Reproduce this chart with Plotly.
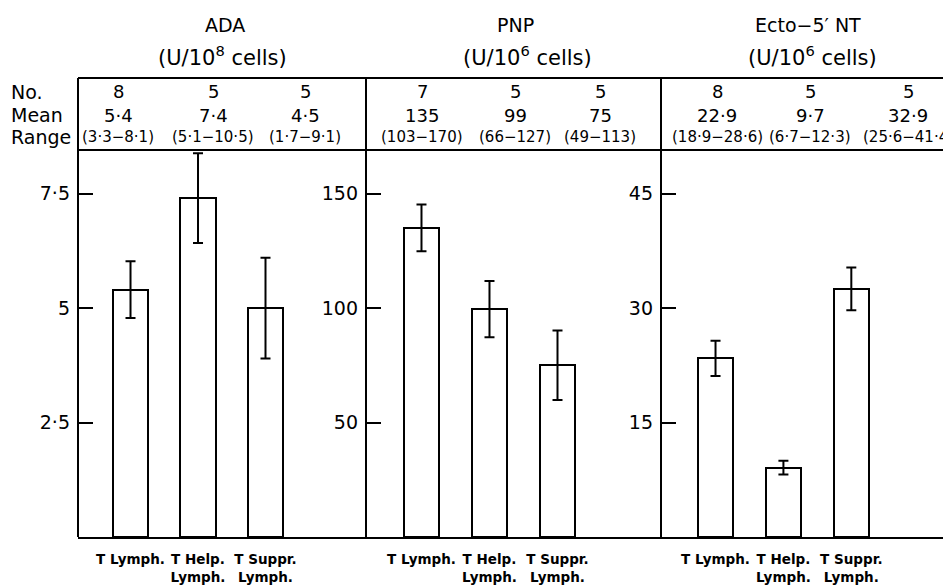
import plotly.graph_objects as go

# page is 951x588; the html body has an 8px margin, so the figure starts at (8, 8)
OFF = 8
W, H = 951, 588

# ---- data ----
categories = ["T Lymph.", "T Help.<br>Lymph.", "T Suppr.<br>Lymph."]
cat_pos = [0, 1, 2]

ada_mean = [5.4, 7.4, 5.0]
ada_err = [0.62, 0.98, 1.1]
pnp_mean = [135, 99.5, 75]
pnp_err = [10.2, 12.3, 15.2]
ecto_mean = [23.4, 9.1, 32.5]
ecto_err = [2.3, 0.9, 2.8]

ada_n = ["8", "5", "5"]
ada_mean_txt = ["5·4", "7·4", "4·5"]
ada_range_txt = ["(3·3−8·1)", "(5·1−10·5)", "(1·7−9·1)"]
pnp_n = ["7", "5", "5"]
pnp_mean_txt = ["135", "99", "75"]
pnp_range_txt = ["(103−170)", "(66−127)", "(49−113)"]
ecto_n = ["8", "5", "5"]
ecto_mean_txt = ["22·9", "9·7", "32·9"]
ecto_range_txt = ["(18·9−28·6)", "(6·7−12·3)", "(25·6−41·4)"]

ada_ticks = [2.5, 5, 7.5]
ada_ticktext = ["2·5", "5", "7·5"]
pnp_ticks = [50, 100, 150]
pnp_ticktext = ["50", "100", "150"]
ecto_ticks = [15, 30, 45]
ecto_ticktext = ["15", "30", "45"]

titles = ["ADA", "PNP", "Ecto−5′ NT"]
units = ["(U/10<sup>8</sup> cells)", "(U/10<sup>6</sup> cells)", "(U/10<sup>6</sup> cells)"]
row_labels = ["No.", "Mean", "Range"]

# ---- layout helpers (page pixel -> paper) ----
def px(x):
    return (x - OFF) / W

def py(y):
    return 1 - (y - OFF) / H

FONT = "DejaVu Sans"
LW = 2

panels = [
    dict(mean=ada_mean, err=ada_err, n=ada_n, mt=ada_mean_txt, rt=ada_range_txt,
         ticks=ada_ticks, tt=ada_ticktext, yr=[0, 8.45],
         dom=[78, 366], xr=[-0.778, 3.489], bw=0.52,
         hx=[118, 213, 305], tx=225, ux=222),
    dict(mean=pnp_mean, err=pnp_err, n=pnp_n, mt=pnp_mean_txt, rt=pnp_range_txt,
         ticks=pnp_ticks, tt=pnp_ticktext, yr=[0, 169],
         dom=[366, 661], xr=[-0.816, 3.522], bw=0.515,
         hx=[422, 515, 600], tx=515, ux=527),
    dict(mean=ecto_mean, err=ecto_err, n=ecto_n, mt=ecto_mean_txt, rt=ecto_range_txt,
         ticks=ecto_ticks, tt=ecto_ticktext, yr=[0, 50.7],
         dom=[661, 951], xr=[-0.803, 3.468], bw=0.515,
         hx=[717, 810, 908], tx=808, ux=812),
]

fig = go.Figure()
annotations = []
shapes = []

ydom = [py(537), py(150)]


def ann(x, y, text, size, xanchor="center"):
    return dict(x=px(x), y=py(y), xref="paper", yref="paper", text=text,
                showarrow=False, xanchor=xanchor, yanchor="middle",
                font=dict(family=FONT, size=size, color="black"))


for i, p in enumerate(panels):
    k = "" if i == 0 else str(i + 1)
    fig.add_trace(go.Bar(
        x=cat_pos, y=p["mean"], width=p["bw"],
        marker=dict(color="white", line=dict(color="black", width=LW)),
        error_y=dict(type="data", array=p["err"], visible=True,
                     color="black", thickness=LW, width=5),
        xaxis="x" + k, yaxis="y" + k, showlegend=False, hoverinfo="skip",
    ))
    fig.update_layout(**{
        "xaxis" + k: dict(domain=[px(p["dom"][0]), px(p["dom"][1])], range=p["xr"],
                          tickvals=cat_pos, ticktext=categories, ticks="",
                          showline=True, linecolor="black", linewidth=LW,
                          showgrid=False, zeroline=False, anchor="y" + k,
                          tickfont=dict(family=FONT, size=13.5,
                                        color="black", weight="bold"),
                          ticklabelstandoff=9, fixedrange=True),
        "yaxis" + k: dict(domain=ydom, range=p["yr"], tickvals=p["ticks"],
                          ticktext=p["tt"], ticks="inside", ticklen=15,
                          tickwidth=LW, tickcolor="black", showline=False,
                          showgrid=False, zeroline=False, anchor="x" + k,
                          tickfont=dict(family=FONT, size=19, color="black"),
                          ticklabelstandoff=7, fixedrange=True),
    })
    annotations.append(ann(p["tx"], 25, titles[i], 19))
    annotations.append(ann(p["ux"], 56, units[i], 21))
    for j in range(3):
        annotations.append(ann(p["hx"][j], 92, p["n"][j], 18))
        annotations.append(ann(p["hx"][j], 115, p["mt"][j], 18))
        annotations.append(ann(p["hx"][j], 137, p["rt"][j], 15))

for j, lab in enumerate(row_labels):
    annotations.append(ann(9, [92, 115, 137][j], lab, 19, xanchor="left"))

line = dict(color="black", width=LW)
shapes.append(dict(type="line", xref="paper", yref="paper",
                   x0=px(78), x1=1, y0=py(78), y1=py(78), line=line))
shapes.append(dict(type="line", xref="paper", yref="paper",
                   x0=px(78), x1=1, y0=py(150), y1=py(150), line=line))
for xv in [78, 366, 661]:
    shapes.append(dict(type="line", xref="paper", yref="paper",
                       x0=px(xv), x1=px(xv), y0=py(78), y1=py(537), line=line))

fig.update_layout(
    width=W, height=H,
    margin=dict(l=0, r=0, t=0, b=0),
    paper_bgcolor="white", plot_bgcolor="white",
    annotations=annotations, shapes=shapes,
    bargap=0, showlegend=False,
)

fig.write_html("out.html")
